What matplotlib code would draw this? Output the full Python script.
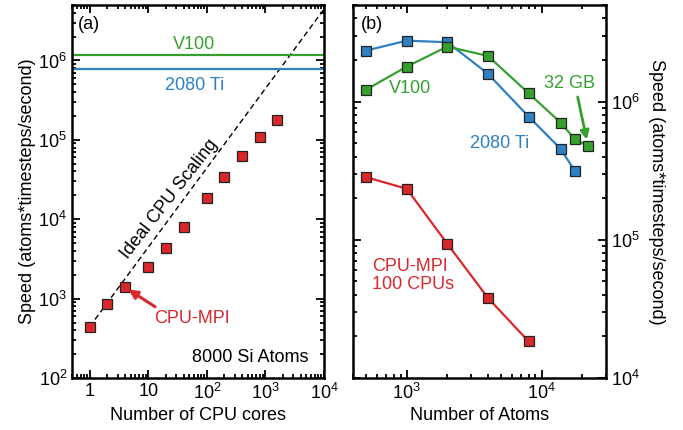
import numpy as np
import matplotlib
matplotlib.use('Agg')
import matplotlib.pyplot as plt
from matplotlib.ticker import LogLocator, NullFormatter

# Panel (a): CPU-MPI scaling, 8000 Si atoms
cores = [1, 2, 4, 10, 20, 40, 100, 200, 400, 800, 1600]
cpu_speed = [443, 865, 1420, 2480, 4300, 7900, 18500, 34000, 63000, 110000, 178000]
v100_8000 = 1.16e6
ti_8000 = 7.7e5

# Panel (b): speed vs number of atoms
atoms_gpu = [500, 1000, 2000, 4000, 8000, 13824, 17576]
ti_speed = [2.34e6, 2.76e6, 2.69e6, 1.59e6, 7.8e5, 4.55e5, 3.16e5]
atoms_v100 = [500, 1000, 2000, 4000, 8000, 13824, 17576, 21952]
v100_speed = [1.22e6, 1.79e6, 2.5e6, 2.14e6, 1.15e6, 7.05e5, 5.35e5, 4.78e5]
atoms_cpu = [500, 1000, 2000, 4000, 8000]
cpu100_speed = [2.84e5, 2.34e5, 9.35e4, 3.8e4, 1.84e4]

red = '#d8282b'
blue = '#2f80c0'
green = '#36a02f'
fs = 13

plt.rcParams['font.family'] = ['Liberation Sans', 'DejaVu Sans']
plt.rcParams['font.size'] = fs
plt.rcParams['mathtext.fontset'] = 'custom'
plt.rcParams['mathtext.rm'] = 'Liberation Sans'
plt.rcParams['mathtext.it'] = 'Liberation Sans'

fig = plt.figure(figsize=(6.83, 4.30), dpi=100, facecolor='white')
ax1 = fig.add_axes([72/683, 52/430, 252/683, 373/430])
ax2 = fig.add_axes([353/683, 52/430, 253/683, 373/430])

mk = dict(marker='s', ms=6.5, mec='#222222', mew=0.9)


def style_axis(ax):
    for s in ax.spines.values():
        s.set_linewidth(1.8)
    ax.tick_params(which='both', direction='in', top=True, right=True, width=1.3)
    ax.tick_params(which='major', length=6)
    ax.tick_params(which='minor', length=3)
    ax.tick_params(axis='both', labelsize=fs)


# ---- panel (a)
ax1.set_xscale('log')
ax1.set_yscale('log')
ax1.set_xlim(0.5, 1e4)
ax1.set_ylim(1e2, 5e6)
xx = np.array([1, 1e4])
ax1.plot(xx, cpu_speed[0] * xx, ls='--', color='black', lw=1.0, dashes=(4, 2.5))
ax1.axhline(v100_8000, color=green, lw=1.6)
ax1.axhline(ti_8000, color=blue, lw=1.6)
ax1.plot(cores, cpu_speed, ls='none', mfc=red, **mk)
ax1.set_xticks([1, 10, 100, 1000, 10000])
ax1.set_xticklabels(['1', '10', r'$10^2$', r'$10^3$', r'$10^4$'])
ax1.xaxis.set_minor_locator(LogLocator(base=10, subs=np.arange(2, 10), numticks=20))
ax1.xaxis.set_minor_formatter(NullFormatter())
ax1.set_yticks([1e2, 1e3, 1e4, 1e5, 1e6])
ax1.set_yticklabels([r'$10^2$', r'$10^3$', r'$10^4$', r'$10^5$', r'$10^6$'])
ax1.yaxis.set_minor_locator(LogLocator(base=10, subs=np.arange(2, 10), numticks=20))
ax1.yaxis.set_minor_formatter(NullFormatter())
style_axis(ax1)
ax1.set_xlabel('Number of CPU cores', fontsize=fs, labelpad=3)
ax1.set_ylabel('Speed (atoms*timesteps/second)', fontsize=fs, labelpad=2)

ax1.text(0.025, 0.97, '(a)', transform=ax1.transAxes, ha='left', va='top', fontsize=fs)
ax1.text(0.485, 0.895, 'V100', transform=ax1.transAxes, ha='center', va='center',
         color=green, fontsize=fs)
ax1.text(0.485, 0.785, '2080 Ti', transform=ax1.transAxes, ha='center', va='center',
         color=blue, fontsize=fs)
ax1.text(0.385, 0.48, 'Ideal CPU Scaling', transform=ax1.transAxes, ha='center',
         va='center', rotation=52, fontsize=fs)
ax1.text(0.94, 0.055, '8000 Si Atoms', transform=ax1.transAxes, ha='right',
         va='center', fontsize=fs)
ax1.text(56, 560, 'CPU-MPI', color=red, fontsize=fs, ha='center', va='center')
ax1.annotate('', xy=(4.6, 1300), xytext=(13.1, 790),
             arrowprops=dict(arrowstyle='-|>', color=red, lw=2.2, mutation_scale=13,
                             shrinkA=0, shrinkB=0))

# ---- panel (b)
ax2.set_xscale('log')
ax2.set_yscale('log')
ax2.set_xlim(400, 3e4)
ax2.set_ylim(1e4, 5e6)
ax2.plot(atoms_gpu, ti_speed, color=blue, lw=1.6, mfc=blue, **mk)
ax2.plot(atoms_v100, v100_speed, color=green, lw=1.6, mfc=green, **mk)
ax2.plot(atoms_cpu, cpu100_speed, color=red, lw=1.6, mfc=red, **mk)
ax2.set_xticks([1e3, 1e4])
ax2.set_xticklabels([r'$10^3$', r'$10^4$'])
ax2.xaxis.set_minor_locator(LogLocator(base=10, subs=np.arange(2, 10), numticks=20))
ax2.xaxis.set_minor_formatter(NullFormatter())
ax2.set_yticks([1e4, 1e5, 1e6])
ax2.set_yticklabels([r'$10^4$', r'$10^5$', r'$10^6$'])
ax2.yaxis.set_minor_locator(LogLocator(base=10, subs=np.arange(2, 10), numticks=20))
ax2.yaxis.set_minor_formatter(NullFormatter())
style_axis(ax2)
ax2.tick_params(axis='y', labelleft=False, labelright=True)
ax2.yaxis.set_label_position('right')
ax2.set_xlabel('Number of Atoms', fontsize=fs, labelpad=3)
ax2.set_ylabel('Speed (atoms*timesteps/second)', fontsize=fs, rotation=-90, labelpad=18)

ax2.text(0.03, 0.97, '(b)', transform=ax2.transAxes, ha='left', va='top', fontsize=fs)
ax2.text(0.225, 0.775, 'V100', transform=ax2.transAxes, ha='center', va='center',
         color=green, fontsize=fs)
ax2.text(0.58, 0.63, '2080 Ti', transform=ax2.transAxes, ha='center', va='center',
         color=blue, fontsize=fs)
ax2.text(0.075, 0.275, 'CPU-MPI\n100 CPUs', transform=ax2.transAxes, ha='left',
         va='center', color=red, fontsize=fs, linespacing=1.1)
ax2.text(16100, 1.36e6, '32 GB', color=green, fontsize=fs, ha='center', va='center')
ax2.annotate('', xy=(21600, 5.3e5), xytext=(18500, 1.08e6),
             arrowprops=dict(arrowstyle='-|>', color=green, lw=2.0, mutation_scale=13,
                             shrinkA=0, shrinkB=0))

plt.savefig('out.png', dpi=100, facecolor='white')
